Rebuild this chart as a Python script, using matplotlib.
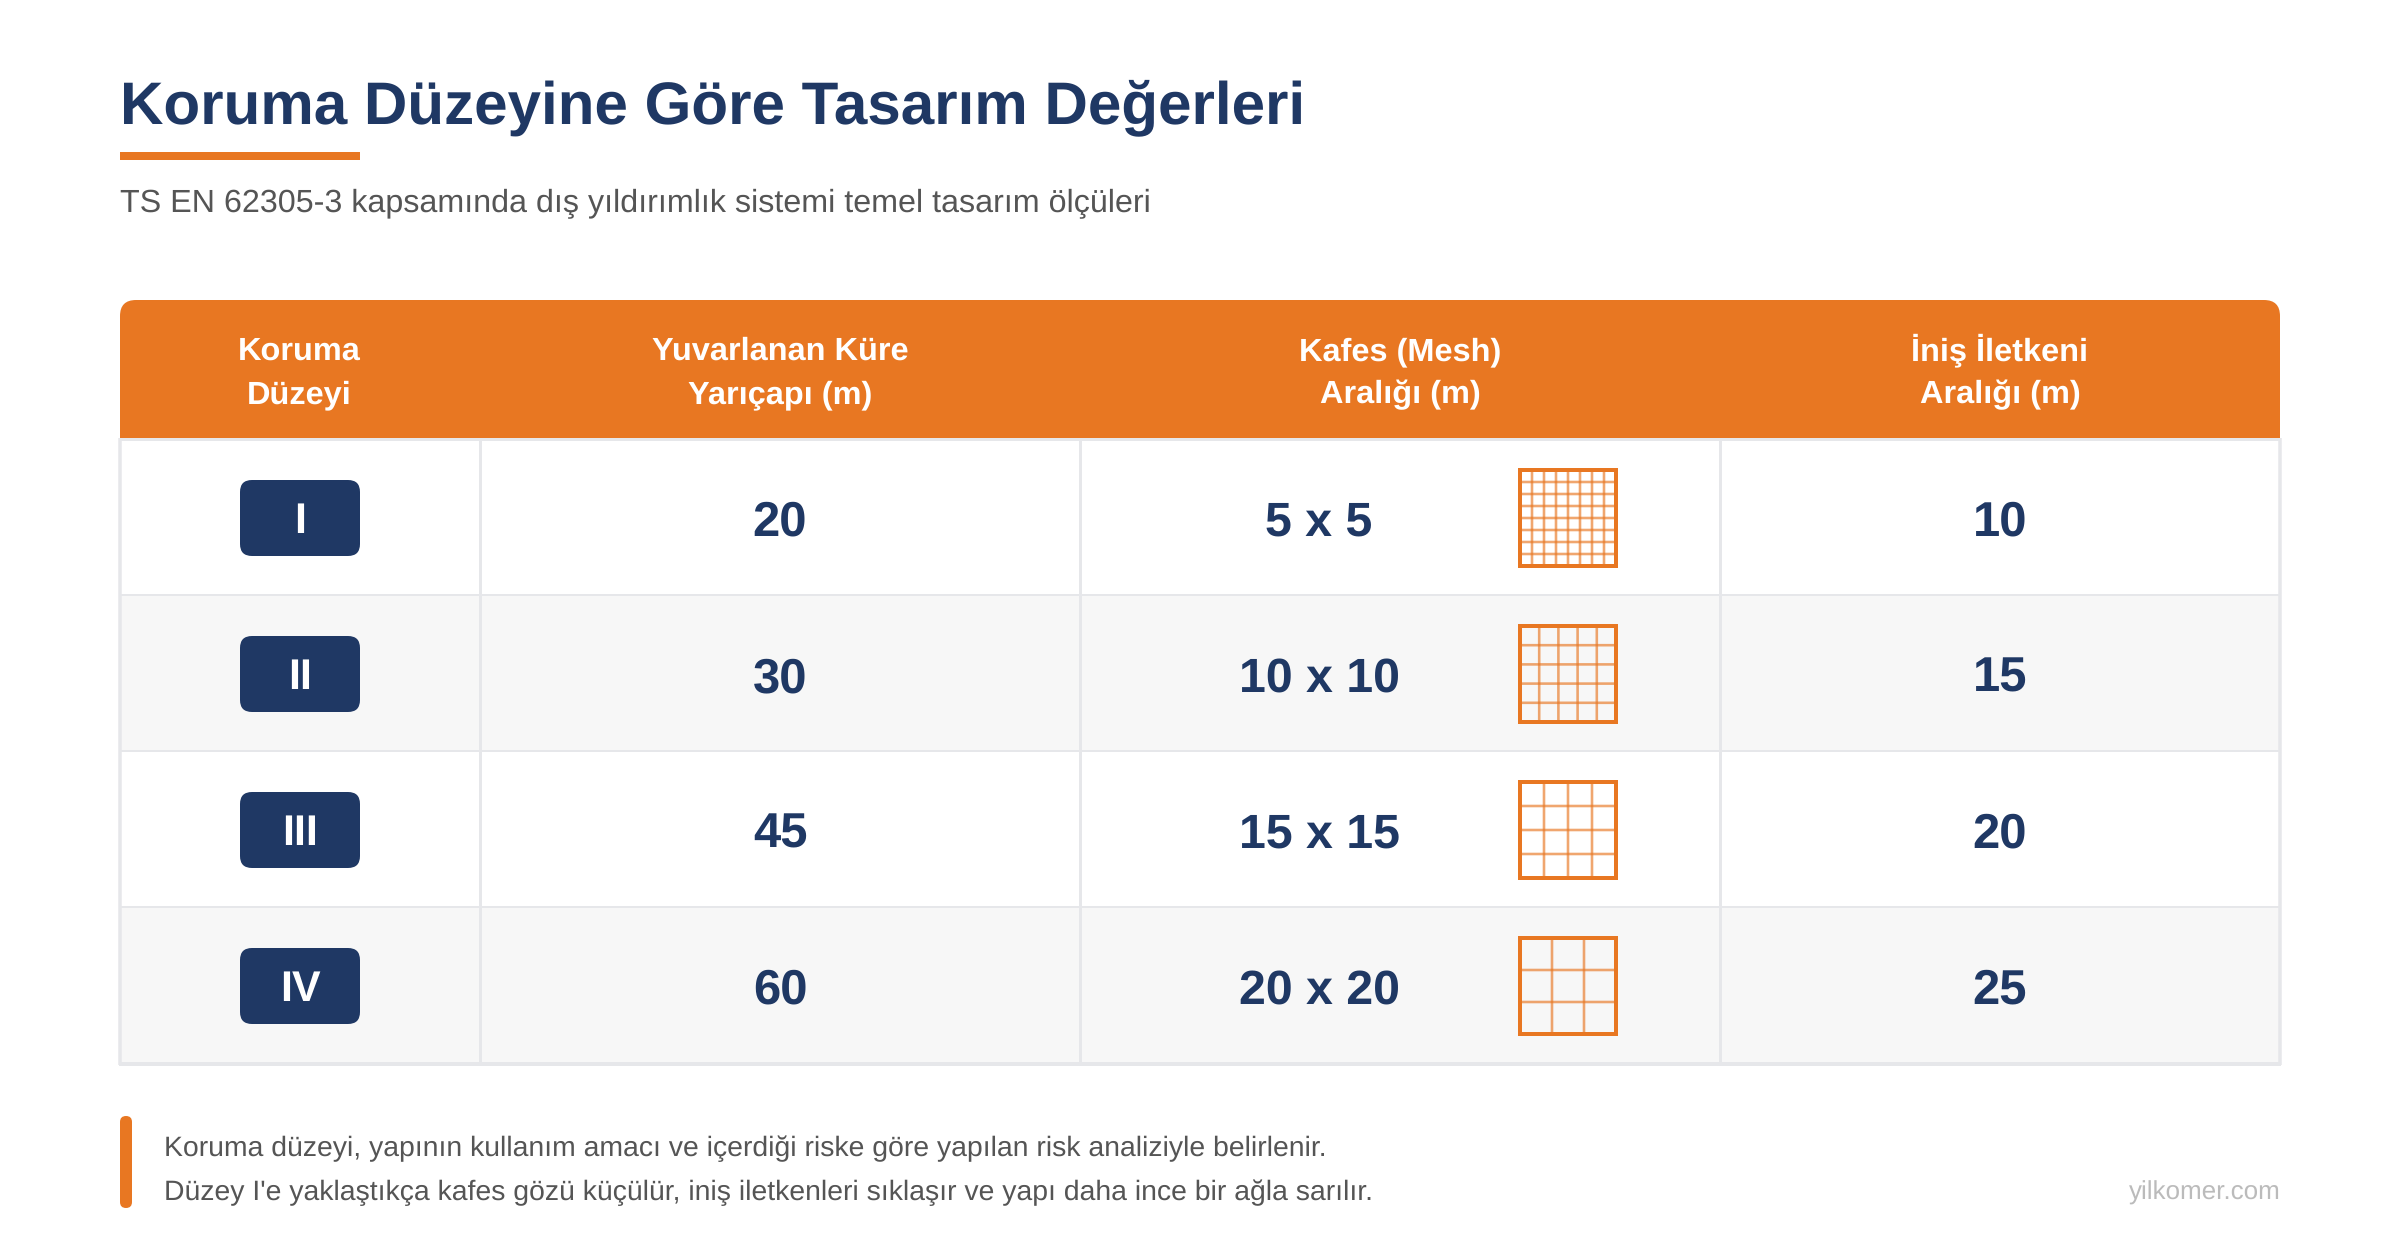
import matplotlib
matplotlib.use("Agg")
import matplotlib.pyplot as plt
from matplotlib.patches import Rectangle, FancyBboxPatch

plt.rcParams['font.family'] = ['Liberation Sans', 'DejaVu Sans']
plt.rcParams['text.hinting'] = 'no_hinting'

title = "Koruma Düzeyine Göre Tasarım Değerleri"
subtitle = "TS EN 62305-3 kapsamında dış yıldırımlık sistemi temel tasarım ölçüleri"
headers = [("Koruma", "Düzeyi"), ("Yuvarlanan Küre", "Yarıçapı (m)"),
           ("Kafes (Mesh)", "Aralığı (m)"), ("İniş İletkeni", "Aralığı (m)")]
levels = ["I", "II", "III", "IV"]
radii = ["20", "30", "45", "60"]
mesh = ["5 x 5", "10 x 10", "15 x 15", "20 x 20"]
mesh_cells = [8, 5, 4, 3]
down = ["10", "15", "20", "25"]
notes = ["Koruma düzeyi, yapının kullanım amacı ve içerdiği riske göre yapılan risk analiziyle belirlenir.",
         "Düzey I'e yaklaştıkça kafes gözü küçülür, iniş iletkenleri sıklaşır ve yapı daha ince bir ağla sarılır."]
source = "yilkomer.com"

ORANGE = "#E87722"
NAVY = "#1F3864"
GREY = "#555555"
LINE = "#E6E7EA"
ALT = "#F7F7F7"

fig = plt.figure(figsize=(24, 12.4), dpi=100, facecolor="white")
ax = fig.add_axes([0, 0, 1, 1])
ax.set_xlim(0, 2400)
ax.set_ylim(1240, 0)
ax.axis("off")


def px(size):
    return size * 0.72


def text(x, y, s, size, color, weight="normal", ha="center"):
    ax.text(x, y, s, fontsize=px(size), color=color, fontweight=weight, ha=ha, va="baseline")


def rounded(x0, y0, x1, y1, r, color, z=2):
    ax.add_patch(FancyBboxPatch((x0 + r, y0 + r), x1 - x0 - 2 * r, y1 - y0 - 2 * r,
                                boxstyle=f"round,pad={r},rounding_size={r}",
                                fc=color, ec="none", zorder=z))


# Title block
text(120, 123, title, 60.1, NAVY, "bold", "left")
ax.add_patch(Rectangle((120, 152), 240, 8, fc=ORANGE, ec="none"))
text(120, 211, subtitle, 32.3, GREY, ha="left")

# Table geometry
L, R = 120, 2280
cols = [L, 480, 1080, 1720, R]
head_top, head_bot = 300, 438
row_h = 156
row_top = [439 + i * row_h for i in range(len(levels))]
table_bot = row_top[-1] + row_h + 2

# Header
rounded(L, head_top, R, head_bot, 16, ORANGE)
ax.add_patch(Rectangle((L, head_top + 30), R - L, head_bot - head_top - 30, fc=ORANGE, ec="none", zorder=2))
for i, (a, b) in enumerate(headers):
    cx = (cols[i] + cols[i + 1]) / 2
    text(cx - (1 if i == 0 else 0), 360, a, 32.5, "white", "bold")
    text(cx - (1 if i == 0 else 0), 403, b, 32.5, "white", "bold")

# Rows
for i, y in enumerate(row_top):
    if i % 2:
        ax.add_patch(Rectangle((L, y), R - L, row_h, fc=ALT, ec="none", zorder=1))
    cy = y + 79
    base = cy + 18
    rounded(240, cy - 38, 360, cy + 38, 12, NAVY, z=3)
    ax.text(300, cy + 15, levels[i], fontsize=px(43), color="white", fontweight="bold",
            ha="center", va="baseline", zorder=4)
    text(780, base, radii[i], 49, NAVY, "bold")
    text(1319, base, mesh[i], 48.3, NAVY, "bold")
    text(2000, base, down[i], 49, NAVY, "bold")

    # Mesh icon
    x0, y0 = 1520, cy - 48
    n = mesh_cells[i]
    step = 96 / n
    for k in range(1, n):
        ax.plot([x0 + k * step] * 2, [y0, y0 + 96], color=ORANGE, lw=px(2.6), alpha=0.65,
                solid_capstyle="butt", zorder=3, snap=False)
        ax.plot([x0, x0 + 96], [y0 + k * step] * 2, color=ORANGE, lw=px(2.6), alpha=0.65,
                solid_capstyle="butt", zorder=3, snap=False)
    ax.add_patch(Rectangle((x0, y0), 96, 96, fc="none", ec=ORANGE, lw=px(4), zorder=4, joinstyle="miter"))

# Table rules
for y in row_top[1:]:
    ax.plot([L, R], [y - 0.5] * 2, color=LINE, lw=px(2), solid_capstyle="butt", zorder=2)
ax.plot([L, R], [head_bot + 1] * 2, color=LINE, lw=px(3), solid_capstyle="butt", zorder=2)
ax.plot([L - 1, R + 1], [table_bot - 1] * 2, color=LINE, lw=px(4), solid_capstyle="butt", zorder=2)
for x in cols[1:-1]:
    ax.plot([x, x], [head_bot, table_bot], color=LINE, lw=px(3), solid_capstyle="butt", zorder=2)
ax.plot([L, L], [head_bot, table_bot], color=LINE, lw=px(3.5), solid_capstyle="butt", zorder=2)
ax.plot([R, R], [head_bot, table_bot], color=LINE, lw=px(3.5), solid_capstyle="butt", zorder=2)

# Footer
rounded(120, 1116, 132, 1208, 6, ORANGE)
text(164, 1156, notes[0], 28.4, GREY, ha="left")
text(164, 1200, notes[1], 28.4, GREY, ha="left")
text(2281, 1200, source, 26, "#BBBBBB", ha="right")

fig.savefig("out.png", dpi=100, facecolor="white")
